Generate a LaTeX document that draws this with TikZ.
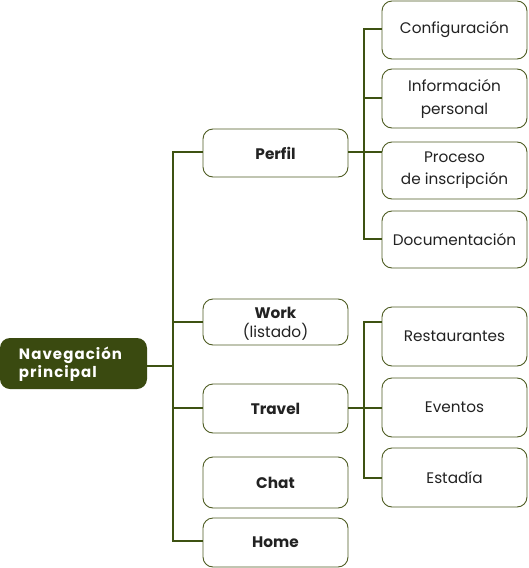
\documentclass[tikz,border=0pt]{standalone}
\usepackage{fontspec}
\setmainfont{Poppins}
\newfontfamily\rootfont[LetterSpace=7]{Poppins}
\definecolor{olive}{HTML}{3A4A10}
\definecolor{linec}{HTML}{3E5212}
\definecolor{boxc}{HTML}{4E5C22}
\definecolor{txt}{HTML}{222222}
\begin{document}
\begin{tikzpicture}[x=1pt,y=-1pt,
  box/.style={draw=boxc,line width=0.9pt,rounded corners=10pt,fill=white,
    minimum width=145pt,inner sep=0pt,align=center,text=txt,font=\fontsize{15.3}{18}\selectfont},
  lvl/.style={box,font=\fontsize{15.3}{18}\selectfont\bfseries},
  conn/.style={draw=linec,line width=1.1pt}]
\useasboundingbox (0,0) rectangle (528,568);
\node[draw=none,fill=olive,rounded corners=10pt,minimum width=147pt,minimum height=51pt,inner sep=0pt,
  text width=109pt,text=white,align=left,font=\rootfont\fontsize{15}{16}\selectfont\bfseries] (root) at (73.5,363.5)
  {\rule{0pt}{14pt}Navegación\\[1pt]principal};
\node[lvl,minimum height=48pt] (perfil) at (275.5,153) {Perfil};
\node[lvl,minimum height=46pt] (work) at (275.5,322) {\rule{0pt}{15pt}Work\\[1pt]\mdseries (listado)};
\node[lvl,minimum height=49pt] (travel) at (275.5,408.5) {Travel};
\node[lvl,minimum height=51pt] (chat) at (275.5,482.5) {Chat};
\node[lvl,minimum height=49pt] (home) at (275.5,542.5) {Home};
\node[box,minimum height=58pt] (config) at (454.5,30) {Configuración};
\node[box,minimum height=59pt] (info) at (454.5,98.5) {Información\\[5pt]personal};
\node[box,minimum height=57pt] (proceso) at (454.5,170.5) {Proceso\\[4pt]de inscripción};
\node[box,minimum height=57pt] (docu) at (454.5,239.5) {Documentación};
\node[box,minimum height=59pt] (rest) at (454.5,336.5) {Restaurantes};
\node[box,minimum height=59pt] (event) at (454.5,407.5) {Eventos};
\node[box,minimum height=59pt] (estadia) at (454.5,477.5) {Estadía};
\coordinate (t) at (173,0);
\coordinate (s) at (364,0);
\draw[conn] (root.east |- 0,366) -- (t |- 0,366);
\draw[conn] (perfil.west |- 0,152) -- (t |- 0,152) -- (t |- 0,541) -- (home.west |- 0,541);
\draw[conn] (work.west) -- (work.west -| t);
\draw[conn] (travel.west |- 0,408) -- (t |- 0,408);
\draw[conn] (perfil.east |- 0,152) -- (s |- 0,152) -- (proceso.west |- 0,152);
\draw[conn] (config.west |- 0,29) -- (s |- 0,29) -- (s |- 0,239) -- (docu.west |- 0,239);
\draw[conn] (info.west |- 0,98) -- (s |- 0,98);
\draw[conn] (travel.east |- 0,408) -- (s |- 0,408);
\draw[conn] (rest.west |- 0,322) -- (s |- 0,322) -- (s |- 0,478) -- (estadia.west |- 0,478);
\draw[conn] (event.west |- 0,408) -- (s |- 0,408);
\end{tikzpicture}
\end{document}
